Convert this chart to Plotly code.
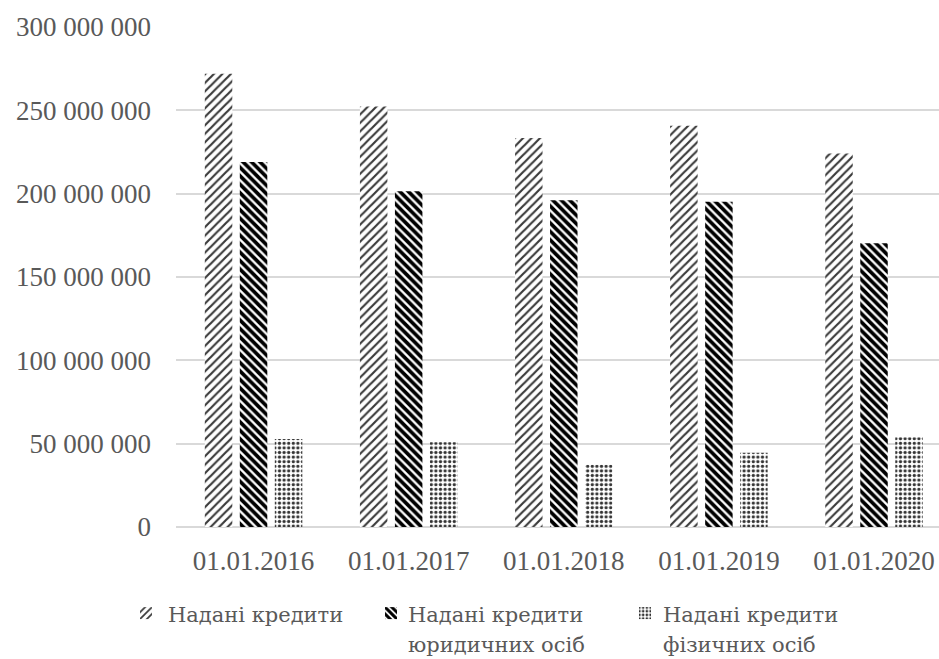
import plotly.graph_objects as go

# Loans issued, UAH thousand, by reporting date
dates = ["01.01.2016", "01.01.2017", "01.01.2018", "01.01.2019", "01.01.2020"]
loans_total = [271_900_000, 252_300_000, 233_400_000, 240_700_000, 224_100_000]
loans_legal = [219_000_000, 201_400_000, 196_000_000, 195_200_000, 170_200_000]
loans_individual = [52_800_000, 50_900_000, 37_400_000, 44_500_000, 53_800_000]

series_labels = [
    ["Надані кредити"],
    ["Надані кредити", "юридичних осіб"],
    ["Надані кредити", "фізичних осіб"],
]
y_ticks = [0, 50_000_000, 100_000_000, 150_000_000, 200_000_000, 250_000_000, 300_000_000]
y_tick_text = ["0", "50 000 000", "100 000 000", "150 000 000", "200 000 000", "250 000 000", "300 000 000"]

FONT = "Liberation Serif"
CYR_FONT = "DejaVu Serif"  # serif face with Cyrillic glyphs
TEXT = "#595959"
W, H = 939, 659
M_L, M_R, M_T, M_B = 176, 0, 27, 132
PW, PH = W - M_L - M_R, H - M_T - M_B

styles = [
    dict(shape="/", fgcolor="#3a3a3a", bgcolor="white", size=6, solidity=0.36, fgopacity=1),
    dict(shape="\\", fgcolor="#000000", bgcolor="white", size=6, solidity=0.62, fgopacity=1),
    dict(shape=".", fgcolor="#333333", bgcolor="white", size=4.6, solidity=0.4, fgopacity=1),
]
# legend swatch slots and where each label starts (pixels)
legend_widths = [200, 209, 200]
label_x = [167, 407, 662]
line_y = [615, 645]

fig = go.Figure()
for lines, vals, pat, lw in zip(series_labels, [loans_total, loans_legal, loans_individual], styles, legend_widths):
    fig.add_trace(go.Bar(
        x=dates, y=vals, name="", hovertext=" ".join(lines), hoverinfo="x+y+text",
        marker=dict(color="white", line=dict(width=0), pattern=pat),
        legendwidth=lw,
    ))

# legend labels beside the swatches
for lines, lx in zip(series_labels, label_x):
    for text, ly in zip(lines, line_y):
        fig.add_annotation(
            text=text, xref="paper", yref="paper",
            x=(lx - M_L) / PW, y=(H - M_B - ly) / PH,
            xanchor="left", yanchor="middle", showarrow=False,
            borderpad=0, font=dict(family=CYR_FONT, size=21, color=TEXT),
        )

fig.update_layout(
    width=W, height=H, autosize=False,
    margin=dict(l=M_L, r=M_R, t=M_T, b=M_B, pad=0),
    paper_bgcolor="white", plot_bgcolor="white",
    barmode="group", bargap=0.323, bargroupgap=0.215,
    font=dict(family=FONT, color=TEXT, size=27),
    showlegend=True,
    legend=dict(
        orientation="h", xref="container", yref="container",
        x=126 / W, xanchor="left", y=1 - 591 / H, yanchor="top",
        font=dict(family=FONT, size=24, color=TEXT),
        valign="top", itemwidth=30, bgcolor="rgba(0,0,0,0)",
        traceorder="normal",
    ),
)
fig.update_xaxes(
    type="category", range=[-0.5, 4.419],
    showgrid=False, showline=False, zeroline=False, ticks="",
    tickfont=dict(family=FONT, size=27, color=TEXT),
    ticklabelstandoff=15, automargin=False,
)
fig.update_yaxes(
    range=[0, 300_000_000], tickvals=y_ticks, ticktext=y_tick_text,
    showgrid=True, gridcolor="#d9d9d9", gridwidth=1.5,
    zeroline=True, zerolinecolor="#d9d9d9", zerolinewidth=1.5,
    showline=False, ticks="",
    tickfont=dict(family=FONT, size=27, color=TEXT),
    ticklabelstandoff=24, automargin=False,
)

fig.write_html("out.html")
